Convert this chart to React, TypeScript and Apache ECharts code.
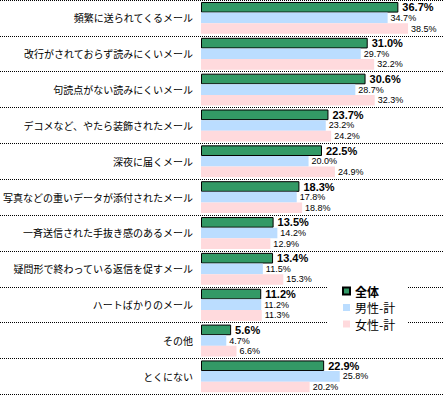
import React, { useEffect, useRef } from "react";
import * as echarts from "echarts";

const categories = [
  "頻繁に送られてくるメール",
  "改行がされておらず読みにくいメール",
  "句読点がない読みにくいメール",
  "デコメなど、やたら装飾されたメール",
  "深夜に届くメール",
  "写真などの重いデータが添付されたメール",
  "一斉送信された手抜き感のあるメール",
  "疑問形で終わっている返信を促すメール",
  "ハートばかりのメール",
  "その他",
  "とくにない",
];
const seriesNames = ["全体", "男性-計", "女性-計"];
const totalValues = [36.7, 31.0, 30.6, 23.7, 22.5, 18.3, 13.5, 13.4, 11.2, 5.6, 22.9];
const maleValues = [34.7, 29.7, 28.7, 23.2, 20.0, 17.8, 14.2, 11.5, 11.2, 4.7, 25.8];
const femaleValues = [38.5, 32.2, 32.3, 24.2, 24.9, 18.8, 12.9, 15.3, 11.3, 6.6, 20.2];

const fmt = (p: any) => Number(p.value).toFixed(1) + "%";

export default function App() {
  const ref = useRef<HTMLDivElement>(null);
  useEffect(() => {
    if (!ref.current) return;
    const chart = echarts.init(ref.current, undefined, { renderer: "svg" });
    const gridTop = -1.7;
    const gridHeight = 396;
    chart.setOption({
      animation: false,
      backgroundColor: "#ffffff",
      grid: [
        { left: 201, width: 244, top: gridTop, height: gridHeight, containLabel: false },
        { left: 0, right: 0, top: gridTop, height: gridHeight, containLabel: false },
      ],
      xAxis: [
        { type: "value", gridIndex: 0, min: 0, max: 45, show: false },
        { type: "value", gridIndex: 1, min: 0, max: 1, show: false },
      ],
      yAxis: [
        {
          type: "category",
          gridIndex: 0,
          data: categories,
          inverse: true,
          axisLine: { show: false },
          axisTick: { show: false },
          splitLine: { show: false },
          axisLabel: {
            interval: 0,
            margin: 8,
            color: "#000",
            fontSize: 10,
            fontFamily: "Noto Sans CJK JP",
          },
        },
        {
          type: "category",
          gridIndex: 1,
          data: categories,
          inverse: true,
          axisLine: { show: false },
          axisTick: { show: false },
          axisLabel: { show: false },
          splitLine: {
            show: true,
            interval: 0,
            lineStyle: { color: "#000", width: 1, type: [1, 1] },
          },
        },
      ],
      legend: {
        orient: "vertical",
        left: 328,
        top: 280,
        padding: [5, 12, 5, 14],
        backgroundColor: "#ffffff",
        itemWidth: 7,
        itemHeight: 7,
        itemGap: 4.5,
        icon: "rect",
        z: 10,
        textStyle: {
          fontSize: 12,
          color: "#000",
          fontFamily: "Noto Sans CJK JP",
          lineHeight: 12,
        },
        data: [
          { name: seriesNames[0], textStyle: { fontWeight: "bold" } },
          { name: seriesNames[1] },
          { name: seriesNames[2] },
        ],
      },
      series: [
        {
          name: seriesNames[0],
          type: "bar",
          xAxisIndex: 0,
          yAxisIndex: 0,
          data: totalValues,
          barGap: "0%",
          barCategoryGap: "11%",
          itemStyle: { color: "#339966", borderColor: "#000", borderWidth: 1 },
          label: {
            show: true,
            position: "right",
            distance: 4,
            formatter: fmt,
            color: "#000",
            fontSize: 11,
            fontWeight: "bold",
            fontFamily: "Liberation Sans",
          },
        },
        {
          name: seriesNames[1],
          type: "bar",
          xAxisIndex: 0,
          yAxisIndex: 0,
          data: maleValues,
          barGap: "0%",
          barCategoryGap: "11%",
          itemStyle: { color: "#BBDDFF" },
          label: {
            show: true,
            position: "right",
            distance: 3,
            formatter: fmt,
            color: "#000",
            fontSize: 9,
            fontFamily: "Liberation Sans",
          },
        },
        {
          name: seriesNames[2],
          type: "bar",
          xAxisIndex: 0,
          yAxisIndex: 0,
          data: femaleValues,
          barGap: "0%",
          barCategoryGap: "11%",
          itemStyle: { color: "#FFDADD" },
          label: {
            show: true,
            position: "right",
            distance: 3,
            formatter: fmt,
            color: "#000",
            fontSize: 9,
            fontFamily: "Liberation Sans",
          },
        },
      ],
    });
    return () => chart.dispose();
  }, []);
  return (
    <div
      ref={ref}
      style={{ position: "absolute", left: 0, top: 0, width: 443, height: 395 }}
    />
  );
}
